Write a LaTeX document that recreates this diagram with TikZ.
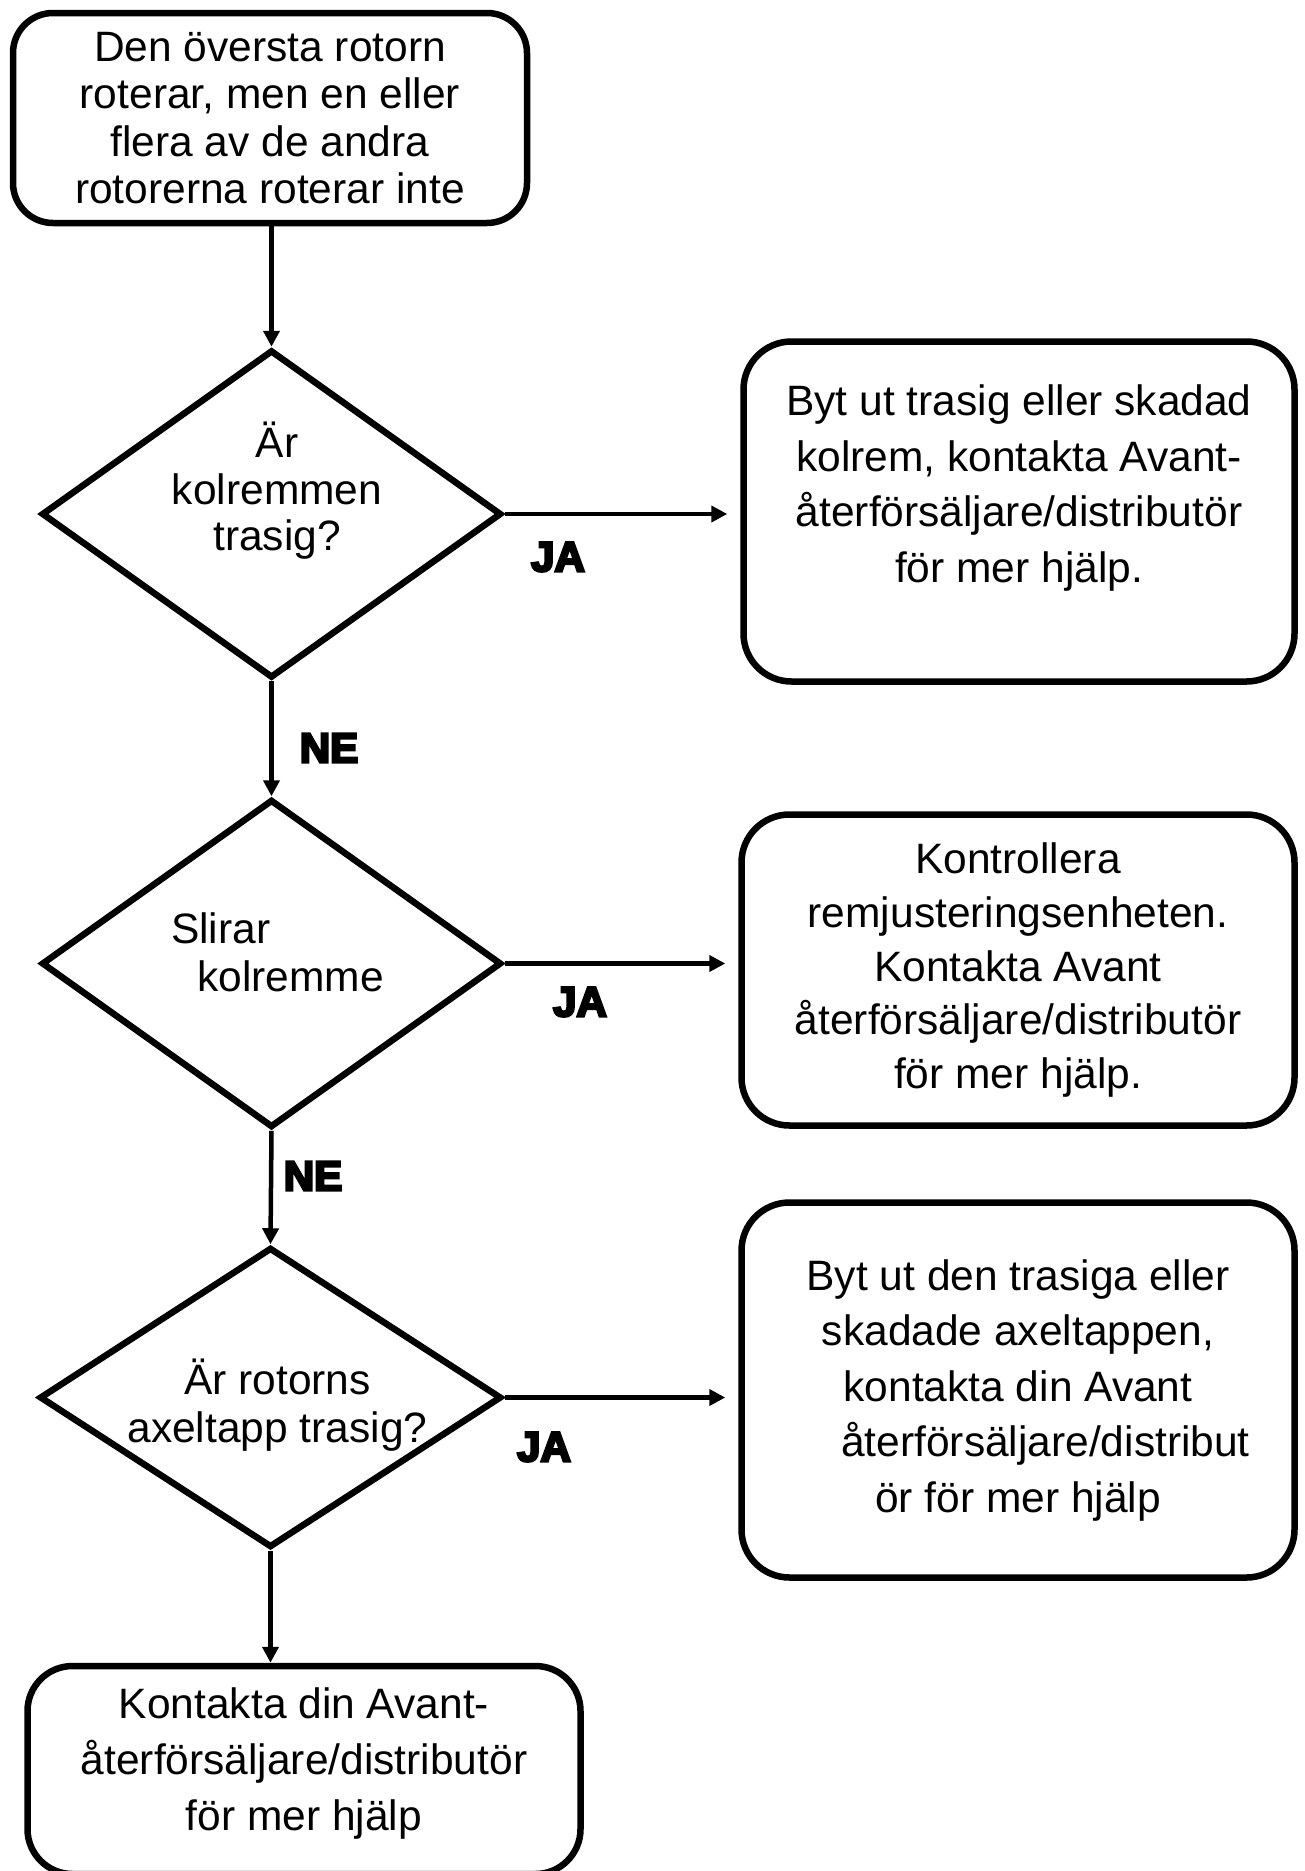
\documentclass[tikz,border=0pt]{standalone}
\usepackage{fontspec}
\setmainfont{Liberation Sans}
\newfontfamily\heavyfont[FakeBold=6]{Liberation Sans Bold}
\usetikzlibrary{shapes.geometric,arrows.meta}
\tikzset{
  boxnode/.style={draw, line width=6.5pt, rounded corners=48pt, align=center, inner sep=0pt},
  dianode/.style={draw, diamond, line width=6.5pt, inner sep=0pt},
  txt/.style={align=center, inner sep=0pt},
  arr/.style={line width=4.5pt, -{Triangle[length=16pt,width=16pt]}},
  lab/.style={font=\heavyfont\fontsize{42}{42}\selectfont, inner sep=0pt},
}
\newcommand{\bodysize}[1]{\fontsize{42.5}{#1}\selectfont}
\begin{document}
\begin{tikzpicture}[x=1pt,y=-1pt]
\useasboundingbox (0,0) rectangle (1304,1871);
% boxes
\node[boxnode, rounded corners=40pt, minimum width=514pt, minimum height=210pt, font=\bodysize{47.5}] (b1) at (270,118)
  {Den översta rotorn\\roterar, men en eller\\flera av de andra\\rotorerna roterar inte};
\node[boxnode, minimum width=551pt, minimum height=340pt, font=\bodysize{55.5}] (b2) at (1019,511.5)
  {Byt ut trasig eller skadad\\kolrem, kontakta Avant-\\återförsäljare/distributör\\för mer hjälp.\\\mbox{}};
\node[boxnode, minimum width=553pt, minimum height=311pt, font=\bodysize{53.8}] (b3) at (1018,970)
  {Kontrollera\\remjusteringsenheten.\\Kontakta Avant\\återförsäljare/distributör\\för mer hjälp.};
\node[boxnode, minimum width=553pt, minimum height=375pt, font=\bodysize{55.5}] (b4) at (1018,1390)
  {Byt ut den trasiga eller\\skadade axeltappen,\\kontakta din Avant\\\hspace*{55pt}återförsäljare/distribut\\ör för mer hjälp};
\node[boxnode, rounded corners=45pt, minimum width=553pt, minimum height=208pt, font=\bodysize{56}] (b5) at (304,1770)
  {Kontakta din Avant-\\återförsäljare/distributör\\för mer hjälp\\[-34pt]\mbox{}};
% diamonds
\node[dianode, minimum width=460pt, minimum height=328pt] (d1) at (271.5,514) {};
\node[dianode, minimum width=460pt, minimum height=328pt] (d2) at (271.5,963.5) {};
\node[dianode, minimum width=462pt, minimum height=300pt] (d3) at (270.5,1397.5) {};
\node[txt, font=\bodysize{46.5}] (t1) at (277,491) {Är\\kolremmen\\trasig?};
\node[txt, align=left, anchor=west, font=\bodysize{48}] (t2) at (171,952) {Slirar\\\hspace*{26pt}kolremme};
\node[txt, font=\bodysize{48}] (t3) at (277.5,1405) {Är rotorns\\axeltapp trasig?};
% connectors
\draw[arr] (d1.north |- b1.south) -- (d1.north);
\draw[arr] (d1.south) -- (d2.north);
\draw[arr] (d2.south) -- (d3.north);
\draw[arr] (d3.south) -- (d3.south |- b5.north);
\draw[arr, shorten >=13pt] (d1.east) -- (d1.east -| b2.west);
\draw[arr, shorten >=13pt] (d2.east) -- (d2.east -| b3.west);
\draw[arr, shorten >=13pt] (d3.east) -- (d3.east -| b4.west);
% labels
\node[lab] (ja1) at (558,557) {JA};
\node[lab] (ja2) at (580,1002) {JA};
\node[lab] (ja3) at (544,1447) {JA};
\node[lab] (ne1) at (329,748) {NE};
\node[lab] (ne2) at (313,1176) {NE};
\end{tikzpicture}
\end{document}
